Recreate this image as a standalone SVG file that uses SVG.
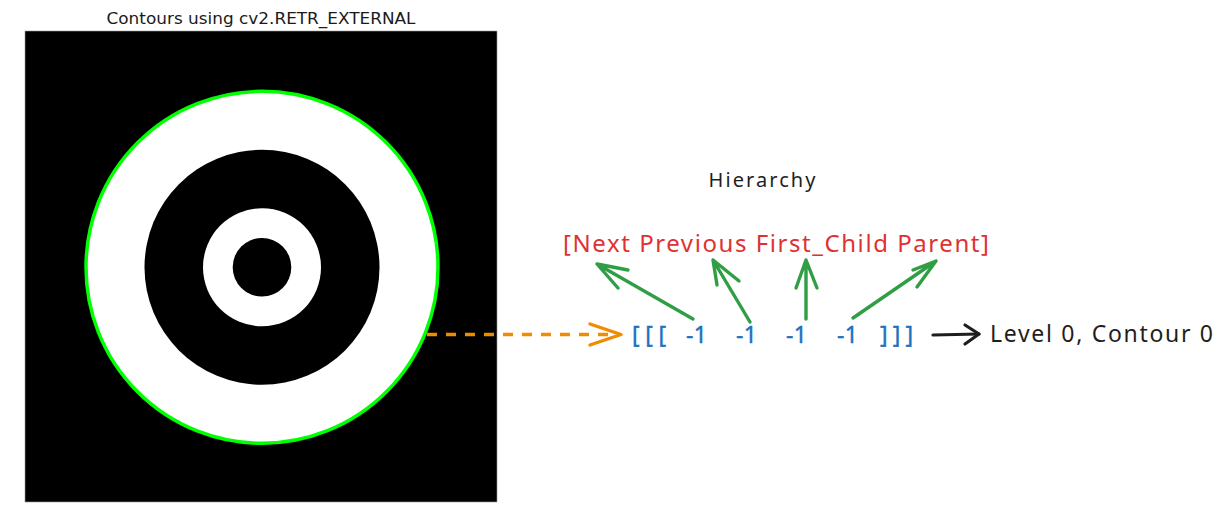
<svg xmlns="http://www.w3.org/2000/svg" width="1224" height="517" viewBox="0 0 1224 517">
<style>
.title{font-family:"DejaVu Sans",sans-serif;font-size:15px;fill:#1a1a1a}
.hand{font-family:"Noto Sans","Liberation Sans",sans-serif}
.green{stroke:#2f9e44;stroke-width:3.4;fill:none;stroke-linecap:round;stroke-linejoin:round}
</style>
<rect width="1224" height="517" fill="#ffffff"/>
<g id="image">
<text class="title" x="261" y="24" text-anchor="middle" textLength="309" lengthAdjust="spacingAndGlyphs">Contours using cv2.RETR_EXTERNAL</text>
<rect x="25" y="31" width="472" height="471" fill="#000000" stroke="#999" stroke-width="0.6"/>
<circle cx="262" cy="267.3" r="176" fill="#ffffff" stroke="#00ff00" stroke-width="3.5"/>
<circle cx="262" cy="267.3" r="117.5" fill="#000000"/>
<circle cx="262" cy="267.3" r="59" fill="#ffffff"/>
<circle cx="262" cy="267.3" r="29.3" fill="#000000"/>
</g>
<g id="hierarchy-title">
<text class="hand" x="762" y="187" text-anchor="middle" font-size="20" fill="#1e1e1e" textLength="107">Hierarchy</text>
</g>
<g id="fields">
<text class="hand" x="563" y="252" font-size="24" fill="#e03131" textLength="426">[Next Previous First_Child Parent]</text>
</g>
<g id="values" class="hand" font-size="23" fill="#1971c2" stroke="#1971c2" stroke-width="0.4">
<text x="632" y="343" textLength="34">[[[</text>
<text x="686" y="343" textLength="21">-1</text>
<text x="736" y="343" textLength="21">-1</text>
<text x="786" y="343" textLength="21">-1</text>
<text x="837" y="343" textLength="21">-1</text>
<text x="880" y="343" textLength="33">]]]</text>
</g>
<g id="result">
<text class="hand" x="990" y="342" font-size="23" fill="#1e1e1e" textLength="223">Level 0, Contour 0</text>
</g>
<g id="connectors">
<path d="M427 334.5 L618 334.5" stroke="#f08c00" stroke-width="3.4" stroke-dasharray="10 9" fill="none"/>
<path d="M590 324 L621 334.5 L590 345" stroke="#f08c00" stroke-width="3.4" fill="none" stroke-linecap="round" stroke-linejoin="round"/>
<path d="M933 335 L979 334" stroke="#1e1e1e" stroke-width="3.2" fill="none" stroke-linecap="round"/>
<path d="M965 325 L979 334 L965 344" stroke="#1e1e1e" stroke-width="3.2" fill="none" stroke-linecap="round" stroke-linejoin="round"/>
<path class="green" d="M693 319 L597 264 M628 270 L597 264 L618 288"/>
<path class="green" d="M750 322 L713 260 M739 281 L713 260 L717 285"/>
<path class="green" d="M806 319 L806 260 M796 288 L806 260 L817 288"/>
<path class="green" d="M853 318 L936 261 M913 270 L936 261 L917 287"/>
</g>
</svg>
